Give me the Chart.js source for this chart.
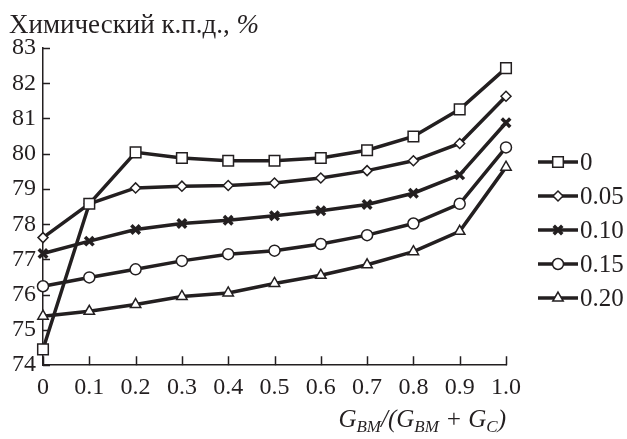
<!DOCTYPE html>
<html>
<head>
<meta charset="utf-8">
<script src="https://cdn.jsdelivr.net/npm/chart.js@4"></script>
<style>
  body { margin: 0; background: #fff; }
  #wrap { position: relative; width: 627px; height: 439px; font-family: "Liberation Serif", "Times New Roman", serif; color: #231f20; }
  #title { position: absolute; left: 9px; top: 9px; font-size: 27px; white-space: nowrap; }
  #xtitle { position: absolute; right: 121px; top: 405px; font-size: 25px; font-style: italic; white-space: nowrap; }
  #xtitle sub { font-size: 17px; vertical-align: -5px; }
  #legend { position: absolute; left: 537px; top: 145px; font-size: 25px; }
  #legend .row { height: 34px; display: flex; align-items: center; }
  #legend canvas { display: block; margin-right: 1px; }
</style>
</head>
<body>
<div id="wrap">
  <canvas id="chart"></canvas>
  <div id="title">Химический к.п.д., <i>%</i></div>
  <div id="xtitle">G<sub>BM</sub>/(G<sub>BM</sub> + G<sub>C</sub>)</div>
  <div id="legend"></div>
</div>
<script>
// valores
var xValues = [0, 0.1, 0.2, 0.3, 0.4, 0.5, 0.6, 0.7, 0.8, 0.9, 1.0];
var seriesLabels = ["0", "0.05", "0.10", "0.15", "0.20"];
var eff0   = [74.45, 78.58, 80.04, 79.88, 79.80, 79.80, 79.88, 80.10, 80.49, 81.26, 82.43];
var eff005 = [77.62, 78.58, 79.03, 79.08, 79.10, 79.17, 79.31, 79.52, 79.80, 80.29, 81.63];
var eff010 = [77.17, 77.52, 77.85, 78.02, 78.11, 78.24, 78.38, 78.56, 78.88, 79.40, 80.88];
var eff015 = [76.24, 76.49, 76.72, 76.96, 77.15, 77.25, 77.44, 77.69, 78.02, 78.58, 80.18];
var eff020 = [75.39, 75.53, 75.72, 75.95, 76.05, 76.32, 76.55, 76.85, 77.22, 77.80, 79.62];
var xTicks = [0, 0.1, 0.2, 0.3, 0.4, 0.5, 0.6, 0.7, 0.8, 0.9, 1.0];
var yTicks = [74, 75, 76, 77, 78, 79, 80, 81, 82, 83];

var ink = "#231f20";
var allSeries = [eff0, eff005, eff010, eff015, eff020];
var markers = [
  { style: "rect", radius: 7.5, border: 1.5 },
  { style: "rectRot", radius: 5, border: 1.5 },
  { style: "crossRot", radius: 6, border: 3.5 },
  { style: "circle", radius: 5.5, border: 1.5 },
  { style: "triangle", radius: 6, border: 1.5 }
];

var datasets = allSeries.map(function (vals, i) {
  return {
    label: seriesLabels[i],
    data: vals.map(function (v, j) { return { x: xValues[j], y: v }; }),
    borderColor: ink,
    borderWidth: 3.5,
    pointStyle: markers[i].style,
    pointRadius: markers[i].radius,
    pointBorderWidth: markers[i].border,
    pointBorderColor: ink,
    pointBackgroundColor: "#fff",
    tension: 0,
    clip: false
  };
});

// ticks hacia adentro, como en el original
var innerTicks = {
  id: "innerTicks",
  afterDraw: function (chart) {
    var c = chart.ctx, xs = chart.scales.x, ys = chart.scales.y;
    c.save();
    c.strokeStyle = ink;
    c.lineWidth = 1.5;
    c.beginPath();
    xTicks.forEach(function (v) {
      var px = Math.round(xs.getPixelForValue(v)) + 0.5;
      c.moveTo(px, ys.bottom);
      c.lineTo(px, ys.bottom - 9);
    });
    yTicks.forEach(function (v) {
      var py = Math.round(ys.getPixelForValue(v)) + 0.5;
      c.moveTo(xs.left, py);
      c.lineTo(xs.left + 7, py);
    });
    c.stroke();
    c.restore();
  }
};

var font = { family: "'Liberation Serif', 'Times New Roman', serif", size: 24 };

var chart = new Chart(document.getElementById("chart"), {
  type: "line",
  data: { datasets: datasets },
  options: {
    responsive: true,
    maintainAspectRatio: false,
    animation: false,
    layout: { padding: { left: 5, right: 121, top: 48, bottom: 29 } },
    plugins: { legend: { display: false }, tooltip: { enabled: false } },
    scales: {
      x: {
        type: "linear",
        min: 0, max: 1,
        afterBuildTicks: function (s) { s.ticks = xTicks.map(function (v) { return { value: v }; }); },
        ticks: {
          color: ink, font: font, padding: 8, maxRotation: 0, autoSkip: false,
          callback: function (v) { return v === 0 ? "0" : v.toFixed(1); }
        },
        grid: { drawOnChartArea: false, drawTicks: false },
        border: { color: ink, width: 1.5 }
      },
      y: {
        min: 74, max: 83,
        afterBuildTicks: function (s) { s.ticks = yTicks.map(function (v) { return { value: v }; }); },
        ticks: { color: ink, font: font, padding: 7 },
        grid: { drawOnChartArea: false, drawTicks: false },
        border: { color: ink, width: 1.5 }
      }
    }
  },
  plugins: [innerTicks]
});

// leyenda: línea con marcador
var legendBox = document.getElementById("legend");
datasets.forEach(function (ds, i) {
  var row = document.createElement("div");
  row.className = "row";
  var cv = document.createElement("canvas");
  cv.width = 42; cv.height = 20;
  var g = cv.getContext("2d");
  g.strokeStyle = ink;
  g.lineWidth = 3.5;
  g.beginPath(); g.moveTo(1, 10); g.lineTo(41, 10); g.stroke();
  g.fillStyle = "#fff";
  g.lineWidth = markers[i].border;
  if (Chart.helpers && Chart.helpers.drawPoint) {
    Chart.helpers.drawPoint(g, { pointStyle: markers[i].style, radius: markers[i].radius, borderWidth: markers[i].border, rotation: 0 }, 21, 10);
  }
  var sp = document.createElement("span");
  sp.textContent = ds.label;
  row.appendChild(cv);
  row.appendChild(sp);
  legendBox.appendChild(row);
});
</script>
</body>
</html>
